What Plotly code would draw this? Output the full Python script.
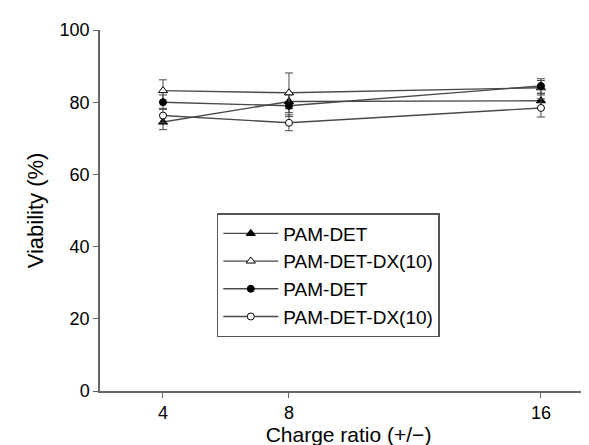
import plotly.graph_objects as go

charge = [4, 8, 16]
names = ["PAM-DET", "PAM-DET-DX(10)", "PAM-DET", "PAM-DET-DX(10)"]
filled_tri = [74.5, 80.2, 80.4]
open_tri = [83.2, 82.6, 84.0]
filled_circ = [80.0, 79.0, 84.5]
open_circ = [76.3, 74.3, 78.4]
err_filled_tri = [2.1, 2.0, 2.0]
err_open_tri = [3.0, 5.5, 2.0]
err_filled_circ = [2.0, 3.0, 2.0]
err_open_circ = [2.0, 2.2, 2.5]

series = [filled_tri, open_tri, filled_circ, open_circ]
errors = [err_filled_tri, err_open_tri, err_filled_circ, err_open_circ]
symbols = ["triangle-up", "triangle-up", "circle", "circle"]
fills = ["black", "white", "black", "white"]
sizes = [8, 8, 7, 7]

LC = "#4a4a4a"
fig = go.Figure()
for nm, ys, er, sym, fc, sz in zip(names, series, errors, symbols, fills, sizes):
    fig.add_trace(go.Scatter(
        x=charge, y=ys, name=nm, mode="lines+markers",
        line=dict(color=LC, width=1.4),
        marker=dict(symbol=sym, size=sz, color=fc, line=dict(color="black", width=1)),
        error_y=dict(type="data", array=er, visible=True, color=LC, thickness=1, width=4),
    ))

font = "Arial, Liberation Sans, sans-serif"
fig.update_layout(
    width=589, height=445,
    margin=dict(l=92, r=0, t=22, b=62),
    paper_bgcolor="white", plot_bgcolor="white",
    font=dict(family=font, size=17, color="black"),
    showlegend=True,
    legend=dict(x=0.235, y=0.493, xanchor="left", yanchor="top",
                bordercolor="#555555", borderwidth=1.5, bgcolor="white",
                font=dict(size=19), tracegroupgap=0, itemwidth=55),
    xaxis=dict(range=[2, 17.78], tickvals=charge, ticktext=[str(c) for c in charge],
               showgrid=False, zeroline=False, showline=True, linecolor="#666666", linewidth=1.5,
               ticks="outside", ticklen=5, tickcolor="#666666",
               title=dict(text="Charge ratio (+/\u2212)", font=dict(size=21), standoff=0),
               tickfont=dict(size=18)),
    yaxis=dict(range=[0, 100], tickvals=[0, 20, 40, 60, 80, 100],
               showgrid=False, zeroline=False, showline=True, linecolor="#666666", linewidth=1.5,
               ticks="outside", ticklen=5, tickcolor="#666666",
               title=dict(text="Viability (%)", font=dict(size=22), standoff=10),
               tickfont=dict(size=18)),
)
fig.write_html("out.html")
